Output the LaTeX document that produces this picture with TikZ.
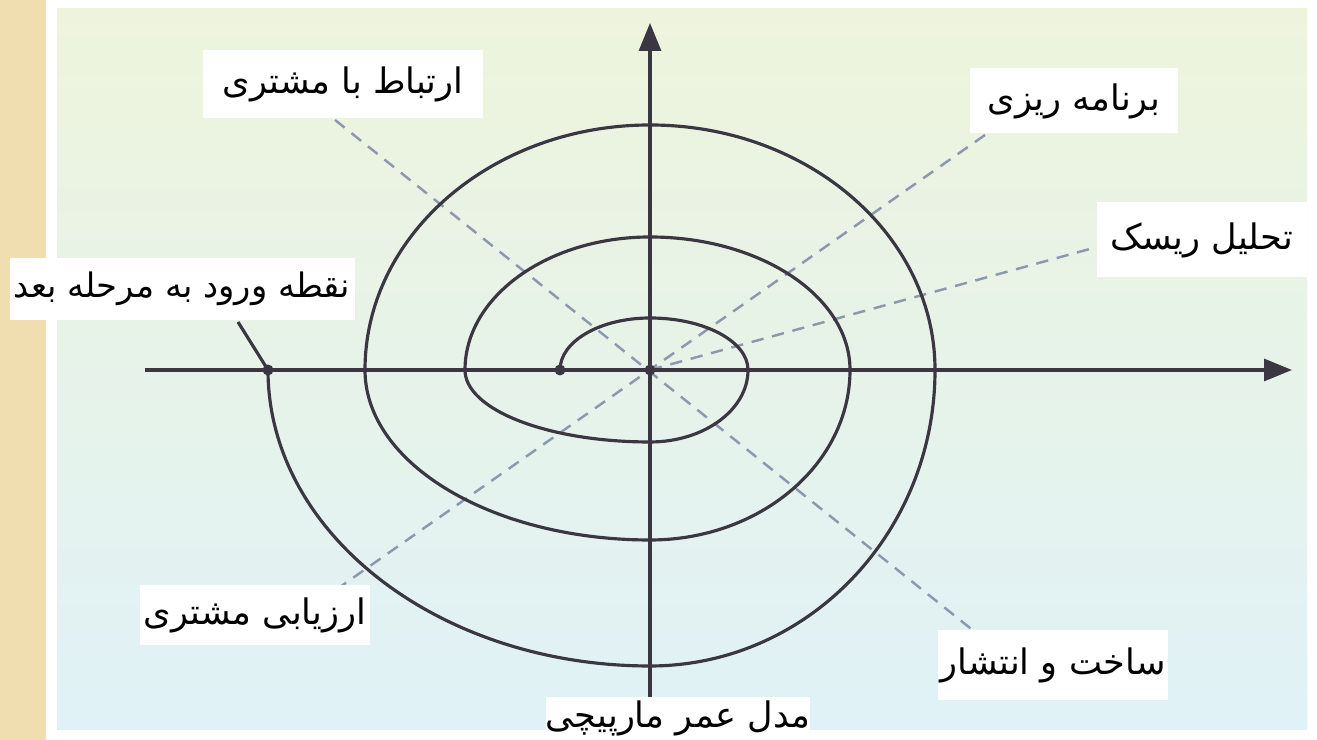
\documentclass[tikz,border=0pt]{standalone}
\usepackage{fontspec}
\newfontfamily\arabicfont[Script=Arabic]{DejaVu Sans}
\TeXXeTstate=1
\usepackage{tikz}
\usetikzlibrary{arrows.meta}
\definecolor{stripbeige}{HTML}{F1DEB0}
\definecolor{phototop}{HTML}{EEF4DC}
\definecolor{photobot}{HTML}{E0F2F7}
\definecolor{inkdark}{HTML}{3A3742}
\definecolor{guidegray}{HTML}{8C98AE}
\newcommand{\prs}[1]{{\arabicfont\beginR #1\endR}}

\begin{document}
\begin{tikzpicture}[
    lbl/.style={fill=white, inner sep=0pt, font=\fontsize{10}{12}\selectfont},
    axis/.style={draw=inkdark, line width=0.9pt, -{Triangle[length=2.8mm,width=2.2mm]}},
    spiral/.style={draw=inkdark, line width=0.9pt},
    guide/.style={draw=guidegray, line width=0.7pt, dash pattern=on 3.5pt off 2.5pt},
    dot/.style={circle, fill=inkdark, inner sep=0pt, minimum size=1.1mm}
]
\useasboundingbox (0,0) rectangle (13.17,7.40);
% slide and photo background
\fill[white] (0,0) rectangle (13.17,7.40);
\fill[stripbeige] (0,0) rectangle (0.46,7.40);
\shade[top color=phototop, bottom color=photobot] (0.57,0.10) rectangle (13.07,7.31);

% phase guides
\coordinate (o) at (6.50,3.70);
\coordinate (commtip) at (3.35,6.20);
\coordinate (buildtip) at (9.75,1.08);
\coordinate (plantip) at (9.85,6.05);
\coordinate (evaltip) at (3.20,1.39);
\coordinate (risktip) at (10.97,4.93);
\draw[guide] (commtip) -- (buildtip);
\draw[guide] (plantip) -- (evaltip);
\draw[guide] (o) -- (risktip);

% axes
\coordinate (xl) at (1.45,3.70);
\coordinate (xr) at (12.92,3.70);
\coordinate (yb) at (6.50,0.40);
\coordinate (yt) at (6.50,7.17);
\draw[axis] (xl) -- (xr);
\draw[axis] (yb) -- (yt);

% spiral
\node[dot] (start) at (5.60,3.70) {};
\node[dot] (mid) at (o) {};
\node[dot] (endpt) at (2.68,3.70) {};
\coordinate (nexttip) at (2.38,4.18);
\draw[spiral] (start.center)
    arc[start angle=180, end angle=90, x radius=0.90cm, y radius=0.52cm]
    arc[start angle=90, end angle=0, x radius=0.98cm, y radius=0.52cm]
    arc[start angle=0, end angle=-90, x radius=0.98cm, y radius=0.72cm]
    arc[start angle=-90, end angle=-180, x radius=1.85cm, y radius=0.72cm]
    arc[start angle=180, end angle=90, x radius=1.85cm, y radius=1.33cm]
    arc[start angle=90, end angle=0, x radius=2.00cm, y radius=1.33cm]
    arc[start angle=0, end angle=-90, x radius=2.00cm, y radius=1.70cm]
    arc[start angle=-90, end angle=-180, x radius=2.85cm, y radius=1.70cm]
    arc[start angle=180, end angle=90, x radius=2.85cm, y radius=2.45cm]
    arc[start angle=90, end angle=0, x radius=2.85cm, y radius=2.45cm]
    arc[start angle=0, end angle=-90, x radius=2.85cm, y radius=2.96cm]
    arc[start angle=-90, end angle=-180, x radius=3.82cm, y radius=2.96cm]
    -- (nexttip);

% labels
\node[lbl, minimum width=2.80cm, minimum height=0.68cm] (comm) at (3.43,6.56) {\prs{ارتباط با مشتری}};
\node[lbl, minimum width=2.08cm, minimum height=0.65cm] (plan) at (10.74,6.39) {\prs{برنامه ریزی}};
\node[lbl, minimum width=2.10cm, minimum height=0.75cm] (risk) at (12.02,5.00) {\prs{تحلیل ریسک}};
\node[lbl, minimum width=3.45cm, minimum height=0.62cm, font=\fontsize{9.6}{12}\selectfont] (next) at (1.82,4.51) {\prs{نقطه ورود به مرحله بعد}};
\node[lbl, minimum width=2.30cm, minimum height=0.60cm] (eval) at (2.55,1.25) {\prs{ارزیابی مشتری}};
\node[lbl, minimum width=2.30cm, minimum height=0.70cm] (build) at (10.53,0.75) {\prs{ساخت و انتشار}};
\node[lbl, minimum width=2.50cm, minimum height=0.42cm] (title) at (6.78,0.22) {\prs{مدل عمر مارپیچی}};
\end{tikzpicture}
\end{document}
